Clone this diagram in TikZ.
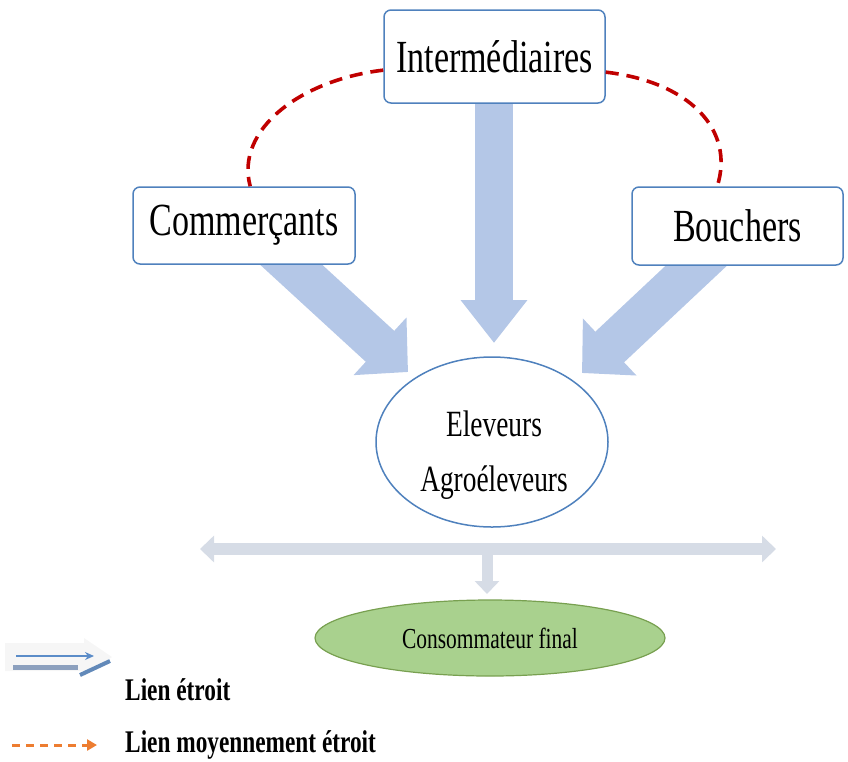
\documentclass[tikz,border=0pt]{standalone}
\usepackage{fontspec}
\setmainfont{Liberation Serif}[FakeStretch=0.74]
\usetikzlibrary{arrows.meta,shapes.geometric,backgrounds}
\definecolor{boxblue}{RGB}{79,129,189}
\definecolor{arrowblue}{RGB}{180,199,231}
\definecolor{barblue}{RGB}{214,220,230}
\definecolor{darkred}{RGB}{192,0,0}
\definecolor{consgreen}{RGB}{169,209,142}
\definecolor{consborder}{RGB}{120,160,80}
\definecolor{legorange}{RGB}{237,125,49}
\definecolor{legblue}{RGB}{91,140,200}
\definecolor{leggray}{RGB}{140,160,190}
\begin{document}
\begin{tikzpicture}[x=1pt,y=-1pt,
  actor/.style={draw=boxblue, line width=1.5pt, fill=white, rounded corners=7pt,
    font=\fontsize{46}{50}\selectfont, inner sep=0pt},
  bigarrow/.style={draw=arrowblue, line width=42pt,
    -{Triangle[width=76pt,length=38pt]}},
  vertarrow/.style={draw=arrowblue, line width=38pt,
    -{Triangle[width=64pt,length=43pt]}},
  reddash/.style={draw=darkred, line width=3.6pt, dash pattern=on 13pt off 8pt},
  hbar/.style={draw=barblue, line width=12pt,
    {Triangle[width=26pt,length=14pt]}-{Triangle[width=26pt,length=14pt]}},
  vbar/.style={draw=barblue, line width=11pt,
    -{Triangle[width=24pt,length=13pt]}},
  legtext/.style={font=\fontsize{31.5}{36}\selectfont\bfseries, anchor=west, inner sep=0pt}
]
\useasboundingbox (0,0) rectangle (848,761);

% boxes
\node[actor, minimum width=221pt, minimum height=93pt] (int) at (494.5,56.5) {Intermédiaires};
\node[actor, minimum width=222pt, minimum height=77pt] (com) at (244,225.5) {Commerçants};
\node[actor, minimum width=211pt, minimum height=78pt] (bou) at (737.5,226) {Bouchers};

% central ellipse
\node[ellipse, draw=boxblue, line width=1.5pt, fill=white, minimum width=232pt, minimum height=170pt, inner sep=0pt] (elv) at (492,442) {};
\node[font=\fontsize{37}{55}\selectfont, align=center, inner sep=0pt] (elvtext) at (494,455) {Eleveurs\\Agroéleveurs};

% consumer
\node[ellipse, draw=consborder, line width=1.2pt, fill=consgreen, minimum width=350pt, minimum height=76pt, inner sep=0pt,
  font=\fontsize{29}{32}\selectfont] (cons) at (490,638) {Consommateur final};

% coordinates for arrow ends
\coordinate (intOut) at (494,100);
\coordinate (intTip) at (494,343);
\coordinate (comOut) at (274,249);
\coordinate (comTip) at (408,372);
\coordinate (bouOut) at (713,250);
\coordinate (bouTip) at (582,373);
\coordinate (hl) at (200,549);
\coordinate (hr) at (776,549);
\coordinate (hmid) at (487,549);
\coordinate (hTip) at (487,594);

\begin{scope}[on background layer]
  \draw[vertarrow] (intOut) -- (intTip);
  \draw[bigarrow] (comOut) -- (comTip);
  \draw[bigarrow] (bouOut) -- (bouTip);
  \draw[vbar] (hmid) -- (hTip);
  \draw[hbar] (hl) -- (hr);
\end{scope}

% red dashed links
\draw[reddash] (int.187) .. controls (300,80) and (235,130) .. (com.81);
\draw[reddash] (int.352) .. controls (690,82) and (735,130) .. (bou.117);

% legend
\fill[gray!7] (5,643) -- (84,643) -- (84,638) -- (112,657) -- (84,676) -- (84,671) -- (5,671) -- cycle;
\coordinate (lb1) at (16,656);
\coordinate (lb2) at (94,656);
\draw[legblue, line width=1.8pt, -{Stealth[length=9pt,width=8pt]}] (lb1) -- (lb2);
\fill[leggray] (13,665) rectangle (78,670);
\coordinate (ls1) at (80,675);
\coordinate (ls2) at (110,661);
\draw[legblue!80!gray, line width=4pt] (ls1) -- (ls2);
\node[legtext] (l1) at (125,690) {Lien étroit};

\coordinate (lo1) at (12,745);
\coordinate (lo2) at (97,745);
\draw[legorange, line width=3pt, dash pattern=on 8pt off 6pt, -{Triangle[length=10pt,width=11pt]}] (lo1) -- (lo2);
\node[legtext] (l2) at (125,745) {Lien moyennement étroit};
\end{tikzpicture}
\end{document}
